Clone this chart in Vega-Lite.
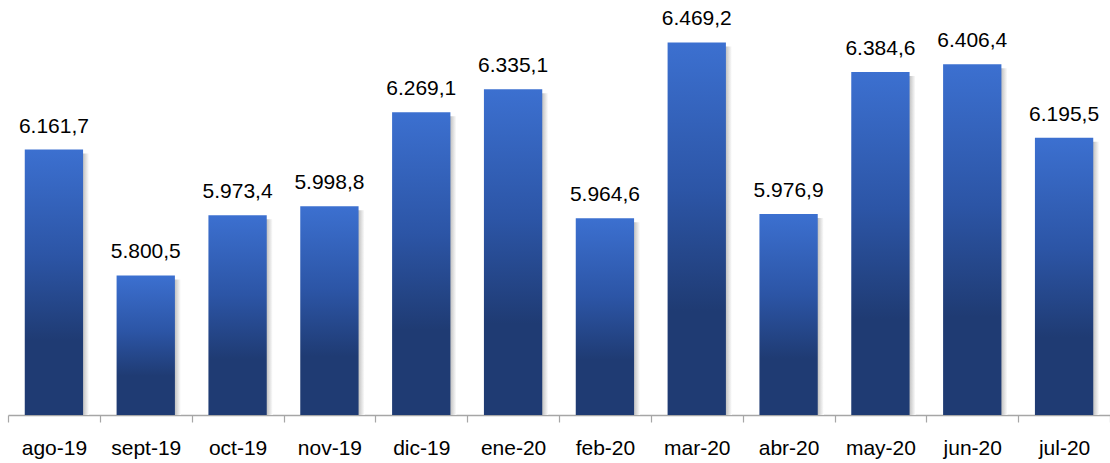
{
  "$schema": "https://vega.github.io/schema/vega-lite/v6.json",
  "width": 1102,
  "height": 415,
  "autosize": {"type": "none"},
  "padding": {"left": 8, "top": 0, "right": 0, "bottom": 48},
  "background": "#ffffff",
  "config": {
    "view": {"stroke": null},
    "locale": {"number": {"decimal": ",", "thousands": ".", "grouping": [3], "currency": ["", ""]}}
  },
  "data": {
    "values": [
      {"mes": "ago-19", "valor": 6161.7},
      {"mes": "sept-19", "valor": 5800.5},
      {"mes": "oct-19", "valor": 5973.4},
      {"mes": "nov-19", "valor": 5998.8},
      {"mes": "dic-19", "valor": 6269.1},
      {"mes": "ene-20", "valor": 6335.1},
      {"mes": "feb-20", "valor": 5964.6},
      {"mes": "mar-20", "valor": 6469.2},
      {"mes": "abr-20", "valor": 5976.9},
      {"mes": "may-20", "valor": 6384.6},
      {"mes": "jun-20", "valor": 6406.4},
      {"mes": "jul-20", "valor": 6195.5}
    ]
  },
  "encoding": {
    "x": {
      "field": "mes", "type": "nominal", "sort": null,
      "scale": {"paddingInner": 0, "paddingOuter": 0},
      "axis": {
        "title": null, "labelAngle": 0, "tickBand": "extent",
        "domainColor": "#a6a6a6", "domainWidth": 1.5, "tickColor": "#a6a6a6", "tickSize": 7, "tickWidth": 1.2,
        "labelFont": "Liberation Sans", "labelFontSize": 21, "labelColor": "#000000", "labelPadding": 15
      }
    },
    "y": {
      "field": "valor", "type": "quantitative",
      "scale": {"domain": [5400, 6591], "zero": false, "nice": false},
      "axis": null
    }
  },
  "layer": [
    {
      "mark": {
        "type": "bar", "width": {"band": 0.635}, "xOffset": 6, "yOffset": 4, "clip": true,
        "fill": {"gradient": "linear", "x1": 0, "y1": 0, "x2": 1, "y2": 0,
          "stops": [{"offset": 0, "color": "#a8a8a8"}, {"offset": 0.88, "color": "#b8b8b8"}, {"offset": 1, "color": "#ffffff"}]}
      },
      "encoding": {"y2": {"datum": 5400}}
    },
    {
      "mark": {
        "type": "bar", "width": {"band": 0.635}, "clip": true,
        "fill": {"gradient": "linear", "x1": 0, "y1": 0, "x2": 0, "y2": 1,
          "stops": [{"offset": 0, "color": "#3c70d0"}, {"offset": 0.4, "color": "#2c55a6"}, {"offset": 0.72, "color": "#1f3b73"}, {"offset": 1, "color": "#1f3b73"}]}
      },
      "encoding": {"y2": {"datum": 5400}}
    },
    {
      "mark": {"type": "text", "dy": -17, "baseline": "alphabetic", "align": "center", "font": "Liberation Sans", "fontSize": 21, "color": "#000000"},
      "encoding": {"text": {"field": "valor", "type": "quantitative", "format": ",.1f"}}
    }
  ]
}
